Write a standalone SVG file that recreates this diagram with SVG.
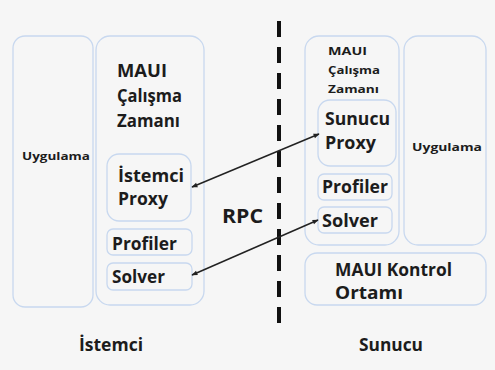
<svg xmlns="http://www.w3.org/2000/svg" width="495" height="370" viewBox="0 0 495 370">
<defs>
<style>
.box{fill:none;stroke:#c8d8ef;stroke-width:1.3}
.t{font-family:"Open Sans","Liberation Sans",sans-serif;font-weight:bold;fill:#1c1c1c}
.m{font-size:17px}
.s{font-size:11px}
.conn{stroke:#222;stroke-width:1.5;fill:none;marker-start:url(#ah);marker-end:url(#ah)}
</style>
<marker id="ah" viewBox="0 0 10 10" refX="9" refY="5" markerWidth="8" markerHeight="6" orient="auto-start-reverse" markerUnits="userSpaceOnUse">
<path d="M0,1 L10,5 L0,9 z" fill="#222"/>
</marker>
</defs>
<rect width="495" height="370" fill="#f6f6f6"/>
<g id="client-app">
<rect class="box" x="13" y="36" width="80" height="271" rx="12"/>
<text class="t s" x="22" y="160" textLength="68" lengthAdjust="spacingAndGlyphs">Uygulama</text>
</g>
<g id="client-runtime">
<rect class="box" x="96" y="36" width="108" height="269" rx="14"/>
<text class="t m" x="117" y="77" textLength="50" lengthAdjust="spacingAndGlyphs">MAUI</text>
<text class="t m" x="117" y="102" textLength="65" lengthAdjust="spacingAndGlyphs">Çalışma</text>
<text class="t m" x="117" y="127" textLength="63" lengthAdjust="spacingAndGlyphs">Zamanı</text>
</g>
<g id="client-proxy">
<rect class="box" x="107" y="154" width="84" height="67" rx="12"/>
<text class="t m" x="118" y="182" textLength="66" lengthAdjust="spacingAndGlyphs">İstemci</text>
<text class="t m" x="118" y="205" textLength="50" lengthAdjust="spacingAndGlyphs">Proxy</text>
</g>
<g id="client-profiler">
<rect class="box" x="107" y="229" width="85" height="26" rx="6"/>
<text class="t m" x="112" y="250" textLength="65" lengthAdjust="spacingAndGlyphs">Profiler</text>
</g>
<g id="client-solver">
<rect class="box" x="107" y="263" width="85" height="27" rx="6"/>
<text class="t m" x="112" y="283" textLength="53" lengthAdjust="spacingAndGlyphs">Solver</text>
</g>
<g id="server-runtime">
<rect class="box" x="305" y="36" width="94" height="209" rx="14"/>
<text class="t s" x="328" y="55" textLength="39" lengthAdjust="spacingAndGlyphs">MAUI</text>
<text class="t s" x="328" y="74" textLength="52" lengthAdjust="spacingAndGlyphs">Çalışma</text>
<text class="t s" x="328" y="93" textLength="51" lengthAdjust="spacingAndGlyphs">Zamanı</text>
</g>
<g id="server-proxy">
<rect class="box" x="318" y="100" width="78" height="66" rx="12"/>
<text class="t m" x="325" y="125" textLength="65" lengthAdjust="spacingAndGlyphs">Sunucu</text>
<text class="t m" x="325" y="149" textLength="51" lengthAdjust="spacingAndGlyphs">Proxy</text>
</g>
<g id="server-profiler">
<rect class="box" x="318" y="174" width="74" height="26" rx="6"/>
<text class="t m" x="322" y="193" textLength="66" lengthAdjust="spacingAndGlyphs">Profiler</text>
</g>
<g id="server-solver">
<rect class="box" x="318" y="207" width="74" height="26" rx="6"/>
<text class="t m" x="322" y="227" textLength="56" lengthAdjust="spacingAndGlyphs">Solver</text>
</g>
<g id="server-app">
<rect class="box" x="404" y="36" width="82" height="209" rx="14"/>
<text class="t s" x="412" y="151" textLength="70" lengthAdjust="spacingAndGlyphs">Uygulama</text>
</g>
<g id="control">
<rect class="box" x="305" y="253" width="181" height="52" rx="12"/>
<text class="t m" x="335" y="276" textLength="117" lengthAdjust="spacingAndGlyphs">MAUI Kontrol</text>
<text class="t m" x="335" y="299" textLength="68" lengthAdjust="spacingAndGlyphs">Ortamı</text>
</g>
<g id="divider">
<line x1="279" y1="21" x2="279" y2="324" stroke="#111" stroke-width="4" stroke-dasharray="16 10"/>
</g>
<g id="connectors">
<line class="conn" x1="192" y1="187" x2="319" y2="134"/>
<line class="conn" x1="192" y1="275" x2="318" y2="220"/>
</g>
<text class="t" x="222" y="223" font-size="20" textLength="41" lengthAdjust="spacingAndGlyphs">RPC</text>
<text class="t m" x="79" y="351" textLength="64" lengthAdjust="spacingAndGlyphs">İstemci</text>
<text class="t m" x="359" y="351" textLength="64" lengthAdjust="spacingAndGlyphs">Sunucu</text>
</svg>
